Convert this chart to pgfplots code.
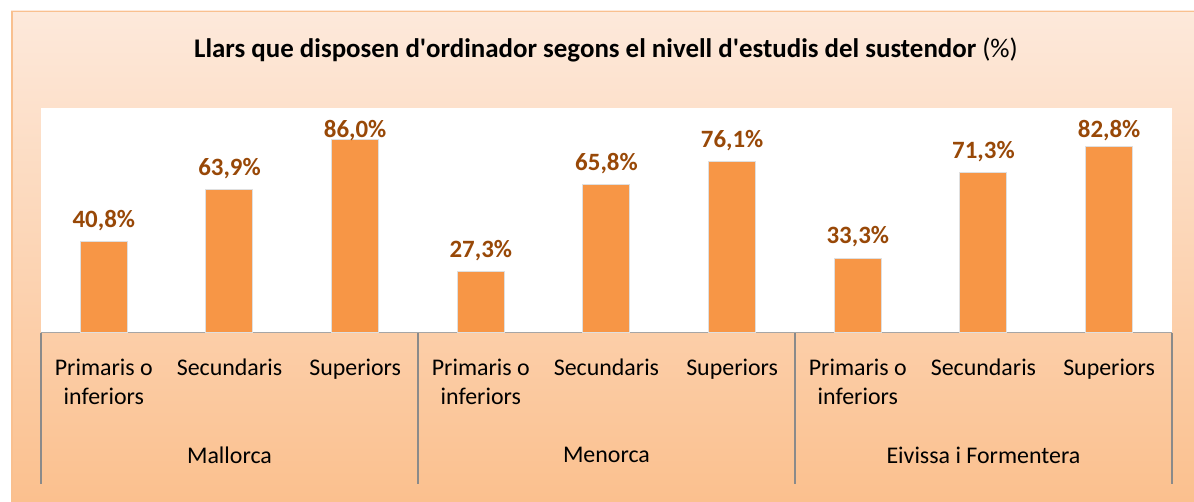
\documentclass[border=0pt]{standalone}
\usepackage{pgfplots}
\pgfplotsset{compat=1.18}
\usepackage{fontspec}
\setmainfont{Carlito}
\definecolor{barc}{HTML}{F79646}
\definecolor{labc}{HTML}{984807}
\definecolor{bgtop}{HTML}{FDE9DB}
\definecolor{bgbot}{HTML}{FBC08E}
\definecolor{framec}{HTML}{F9C08F}
\definecolor{sepc}{HTML}{8A8A8A}
\begin{document}
\begin{tikzpicture}[x=1bp,y=1bp]
\path[fill=white] (0,0) rectangle (1194,502);
\shade[top color=bgtop, bottom color=bgbot] (11,0) rectangle (1194,491);
\draw[framec, line width=1.5bp] (11.75,0) -- (11.75,490.25) -- (1194,490.25);
\node[font=\fontsize{27}{30}\selectfont] at (606,452) {\textbf{Llars que disposen d\textquotesingle ordinador segons el nivell d\textquotesingle estudis del sustendor} (\%)};
\begin{axis}[
  at={(41bp,169bp)}, anchor=south west,
  scale only axis, width=1131bp, height=225bp,
  xmin=-0.5, xmax=8.5, ymin=0, ymax=100,
  axis background/.style={fill=white},
  axis x line*=bottom, axis y line=none,
  x axis line style={draw=gray!70, line width=1bp},
  xtick={0,1,2,3,4,5,6,7,8},
  xticklabels={{\strut Primaris o\\inferiors},{\strut Secundaris\\\strut},{\strut Superiors\\\strut},{\strut Primaris o\\inferiors},{\strut Secundaris\\\strut},{\strut Superiors\\\strut},{\strut Primaris o\\inferiors},{\strut Secundaris\\\strut},{\strut Superiors\\\strut}},
  xticklabel style={align=center, anchor=north, font=\fontsize{24}{29}\selectfont, yshift=-19bp},
  major tick length=0pt,
  extra x ticks={-0.5,2.5,5.5,8.5},
  extra x tick labels={},
  extra x tick style={major tick length=151bp, tick align=outside, tick style={draw=sepc, line width=1.5bp}},
  clip=false,
  ybar, bar width=47bp,
  visualization depends on={rawy \as \rawy},
  nodes near coords={\pgfmathprintnumber[fixed,fixed zerofill,precision=1,use comma,assume math mode=true]{\pgfplotspointmeta}\%},
  every node near coord/.append style={font=\bfseries\fontsize{25}{28}\selectfont, text=labc, yshift={(7-2.25*max(0,\rawy-80.4))*1.00375}},
]
\addplot[fill=barc, draw=gray!25, line width=1bp] coordinates {
 (0,40.8) (1,63.9) (2,86.0) (3,27.3) (4,65.8) (5,76.1) (6,33.3) (7,71.3) (8,82.8)};
\node[font=\fontsize{24}{28}\selectfont] at (axis cs:1,0) [yshift=-122bp] {Mallorca};
\node[font=\fontsize{24}{28}\selectfont] at (axis cs:4,0) [yshift=-122bp] {Menorca};
\node[font=\fontsize{24}{28}\selectfont] at (axis cs:7,0) [yshift=-122bp] {Eivissa i Formentera};
\end{axis}
\pgfresetboundingbox
\path[use as bounding box] (0,0) rectangle (1194,502);
\end{tikzpicture}
\end{document}
